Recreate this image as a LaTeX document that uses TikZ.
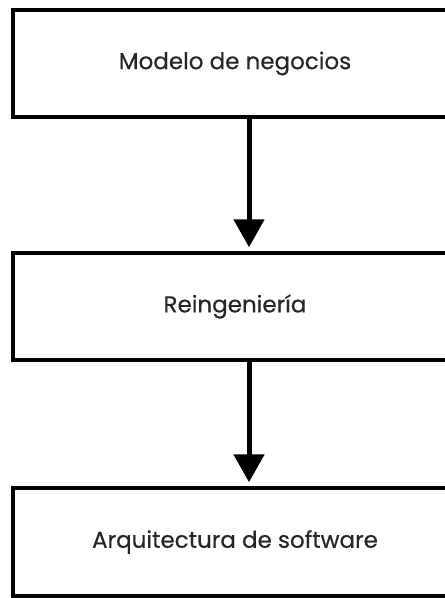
\documentclass[tikz,border=0pt]{standalone}
\usepackage{fontspec}
\newfontfamily\labelfont{Poppins}[FakeBold=0.4]
\usetikzlibrary{arrows.meta}
\tikzset{
  stagebox/.style={draw=black, line width=3.5pt, fill=white, minimum width=444pt,
    minimum height=107pt, inner sep=0pt, font=\labelfont\fontsize{23}{27}\selectfont, text=black!85},
  flowarrow/.style={line width=5pt, -{Triangle[width=30pt,length=28pt]}, shorten >=4pt}
}
\begin{document}
\begin{tikzpicture}[x=1pt,y=-1pt]
  \useasboundingbox (0,0) rectangle (445,598);
  \clip (0,0) rectangle (445,598);
  \node[stagebox] (b1) at (235,63.5) {Modelo de negocios};
  \node[stagebox] (b2) at (235,306.5) {Reingeniería};
  \node[stagebox, minimum height=108pt] (b3) at (235,542) {Arquitectura de software};
  \draw[flowarrow] ([xshift=14pt]b1.south) -- ([xshift=14pt]b2.north);
  \draw[flowarrow] ([xshift=14pt]b2.south) -- ([xshift=14pt]b3.north);
\end{tikzpicture}
\end{document}
